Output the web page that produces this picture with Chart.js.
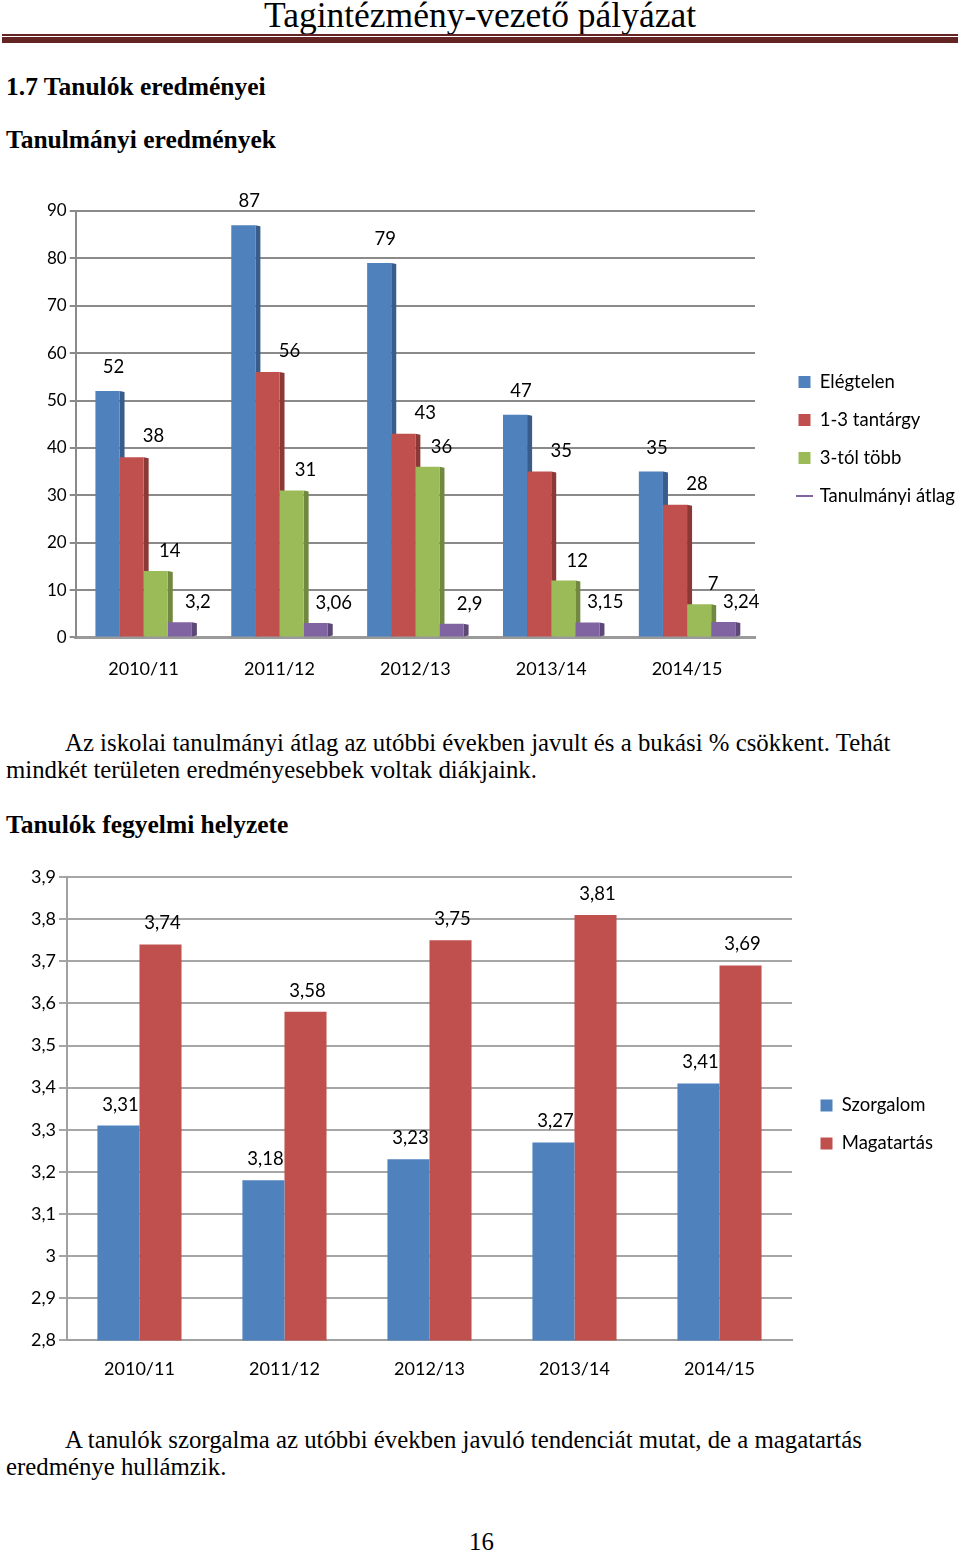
<!DOCTYPE html>
<html>
<head>
<meta charset="utf-8">
<script src="https://cdn.jsdelivr.net/npm/chart.js@4/dist/chart.umd.min.js"></script>
<style>
  body { margin: 0; background: #fff; }
  #page { position: relative; width: 960px; height: 1553px; overflow: hidden; font-family: "Liberation Serif", "Times New Roman", serif; color: #000; }
  .t { position: absolute; white-space: nowrap; line-height: 28px; }
  .h { font-weight: bold; font-size: 25.5px; }
  .p { font-size: 24.8px; }
  .box { position: absolute; }
</style>
</head>
<body>
<div id="page">
  <div class="t" style="left:0;width:960px;text-align:center;top:-3px;font-size:35.5px;line-height:36px;">Tagintézmény-vezető pályázat</div>
  <div class="box" style="left:2px;top:34px;width:956px;height:2px;background:#632423;"></div>
  <div class="box" style="left:2px;top:37px;width:956px;height:6px;background:#632423;"></div>

  <div class="t h" style="left:6px;top:73px;">1.7 Tanulók eredményei</div>
  <div class="t h" style="left:6px;top:126px;">Tanulmányi eredmények</div>

  <div class="box" style="left:0;top:180px;width:960px;height:521px;"><canvas id="c1"></canvas></div>

  <div class="t p" style="left:65px;top:729px;">Az iskolai tanulmányi átlag az utóbbi években javult és a bukási % csökkent. Tehát</div>
  <div class="t p" style="left:6px;top:756px;">mindkét területen eredményesebbek voltak diákjaink.</div>

  <div class="t h" style="left:6px;top:811px;">Tanulók fegyelmi helyzete</div>

  <div class="box" style="left:0;top:860px;width:960px;height:538px;"><canvas id="c2"></canvas></div>

  <div class="t p" style="left:65px;top:1426px;">A tanulók szorgalma az utóbbi években javuló tendenciát mutat, de a magatartás</div>
  <div class="t p" style="left:6px;top:1453px;">eredménye hullámzik.</div>

  <div class="t p" style="left:469px;top:1528px;">16</div>
</div>

<script>
// Tanulmányi eredmények
const years = ['2010/11', '2011/12', '2012/13', '2013/14', '2014/15'];
const elegtelen = [52, 87, 79, 47, 35];
const egyHarom = [38, 56, 43, 35, 28];
const haromTobb = [14, 31, 36, 12, 7];
const atlag = [3.2, 3.06, 2.9, 3.15, 3.24];

// Tanulók fegyelmi helyzete
const szorgalom = [3.31, 3.18, 3.23, 3.27, 3.41];
const magatartas = [3.74, 3.58, 3.75, 3.81, 3.69];

const chartFont = 'Lato, "Open Sans", sans-serif';
Chart.defaults.font.family = chartFont;
Chart.defaults.font.size = 17;
Chart.defaults.color = '#000';
Chart.defaults.animation = false;

const fmt = v => String(Number(v.toFixed(2))).replace('.', ',');

// value labels above the bars (offsets come from each dataset)
const valueLabels = {
    id: 'valueLabels',
    afterDatasetsDraw(chart) {
        const ctx = chart.ctx;
        ctx.save();
        ctx.font = '18.5px ' + chartFont;
        ctx.fillStyle = '#000';
        ctx.textAlign = 'center';
        ctx.textBaseline = 'middle';
        chart.data.datasets.forEach((ds, i) => {
            chart.getDatasetMeta(i).data.forEach((el, j) => {
                ctx.fillText(fmt(ds.data[j]), el.x + ds.labelDx, el.y - ds.labelDy);
            });
        });
        ctx.restore();
    }
};

// darker side face for the 3D look, drawn behind the bars
const sideFaces = {
    id: 'sideFaces',
    beforeDatasetsDraw(chart) {
        const ctx = chart.ctx;
        ctx.save();
        chart.data.datasets.forEach((ds, i) => {
            ctx.fillStyle = ds.sideColor;
            chart.getDatasetMeta(i).data.forEach(el => {
                const r = el.x + el.width / 2;
                ctx.beginPath();
                ctx.moveTo(r, el.y);
                ctx.lineTo(r + 5, el.y + 1);
                ctx.lineTo(r + 5, el.base - 1);
                ctx.lineTo(r, el.base);
                ctx.closePath();
                ctx.fill();
            });
        });
        ctx.restore();
    }
};

// fixed legend width and a small vertical shift
function legendPlace(width, shift) {
    return {
        id: 'legendPlace',
        beforeInit(chart) {
            const lg = chart.legend;
            const fit = lg.fit;
            lg.fit = function () {
                fit.call(this);
                this.width = width;
            };
        },
        afterLayout(chart) {
            chart.legend.top += shift;
            chart.legend.bottom += shift;
        }
    };
}

function legendItems(lineIndex) {
    return function (chart) {
        const items = Chart.defaults.plugins.legend.labels.generateLabels(chart);
        items.forEach((it, i) => {
            it.pointStyle = 'rect';
            it.lineWidth = 0;
            if (i === lineIndex) {
                it.pointStyle = 'line';
                it.strokeStyle = it.fillStyle;
                it.lineWidth = 2;
            }
        });
        return items;
    };
}

// y2 is an empty right axis, only used to leave a gap before the legend
function gapAxis(w) {
    return {
        position: 'right',
        grid: { display: false, drawTicks: false },
        ticks: { display: false },
        border: { display: false },
        afterFit(s) { s.width = w; }
    };
}

new Chart(document.getElementById('c1'), {
    type: 'bar',
    data: {
        labels: years,
        datasets: [
            { label: 'Elégtelen', data: elegtelen, backgroundColor: '#4F81BD', sideColor: '#385D8A', labelDx: 6, labelDy: 24 },
            { label: '1-3 tantárgy', data: egyHarom, backgroundColor: '#C0504D', sideColor: '#8C3836', labelDx: 22, labelDy: 21 },
            { label: '3-tól több', data: haromTobb, backgroundColor: '#9BBB59', sideColor: '#71893F', labelDx: 14, labelDy: 20 },
            { label: 'Tanulmányi átlag', data: atlag, backgroundColor: '#8064A2', sideColor: '#5C4776', labelDx: 18, labelDy: 20 }
        ]
    },
    options: {
        responsive: true,
        maintainAspectRatio: false,
        layout: { padding: { top: 31, left: 44, right: 0, bottom: 0 } },
        datasets: { bar: { categoryPercentage: 0.71, barPercentage: 1 } },
        scales: {
            x: {
                grid: { display: false, drawTicks: false },
                border: { display: true, color: '#9a9a9a', width: 3 },
                ticks: { padding: 21, font: { size: 18 } }
            },
            y: {
                min: 0, max: 90,
                ticks: { stepSize: 10, padding: 3, font: { size: 17 } },
                grid: { color: '#8a8a8a', lineWidth: 2, tickLength: 6 },
                border: { color: '#8a8a8a', width: 2 }
            },
            y2: gapAxis(24)
        },
        plugins: {
            legend: {
                position: 'right',
                labels: {
                    boxWidth: 12, boxHeight: 12, padding: 19.5, usePointStyle: true,
                    font: { size: 18.5 },
                    generateLabels: legendItems(3)
                }
            },
            tooltip: { enabled: false }
        }
    },
    plugins: [sideFaces, valueLabels, legendPlace(181, -17)]
});

new Chart(document.getElementById('c2'), {
    type: 'bar',
    data: {
        labels: years,
        datasets: [
            { label: 'Szorgalom', data: szorgalom, backgroundColor: '#4F81BD', labelDx: 2, labelDy: 21 },
            { label: 'Magatartás', data: magatartas, backgroundColor: '#C0504D', labelDx: 2, labelDy: 21 }
        ]
    },
    options: {
        responsive: true,
        maintainAspectRatio: false,
        layout: { padding: { top: 17, left: 28, right: 0, bottom: 0 } },
        datasets: { bar: { categoryPercentage: 0.58, barPercentage: 1 } },
        scales: {
            x: {
                grid: { display: false, drawTicks: false },
                border: { color: '#a0a0a0', width: 2 },
                ticks: { padding: 18, font: { size: 18 } }
            },
            y: {
                min: 2.8, max: 3.9,
                ticks: {
                    stepSize: 0.1, padding: 3, font: { size: 18 },
                    callback: v => fmt(v)
                },
                grid: { color: '#a6a6a6', lineWidth: 2, tickLength: 8 },
                border: { color: '#a0a0a0', width: 2 }
            },
            y2: gapAxis(9)
        },
        plugins: {
            legend: {
                position: 'right',
                labels: {
                    boxWidth: 12, boxHeight: 12, padding: 19.5, usePointStyle: true,
                    font: { size: 18.5 },
                    generateLabels: legendItems(-1)
                }
            },
            tooltip: { enabled: false }
        }
    },
    plugins: [valueLabels, legendPlace(159, -13)]
});
</script>
</body>
</html>
